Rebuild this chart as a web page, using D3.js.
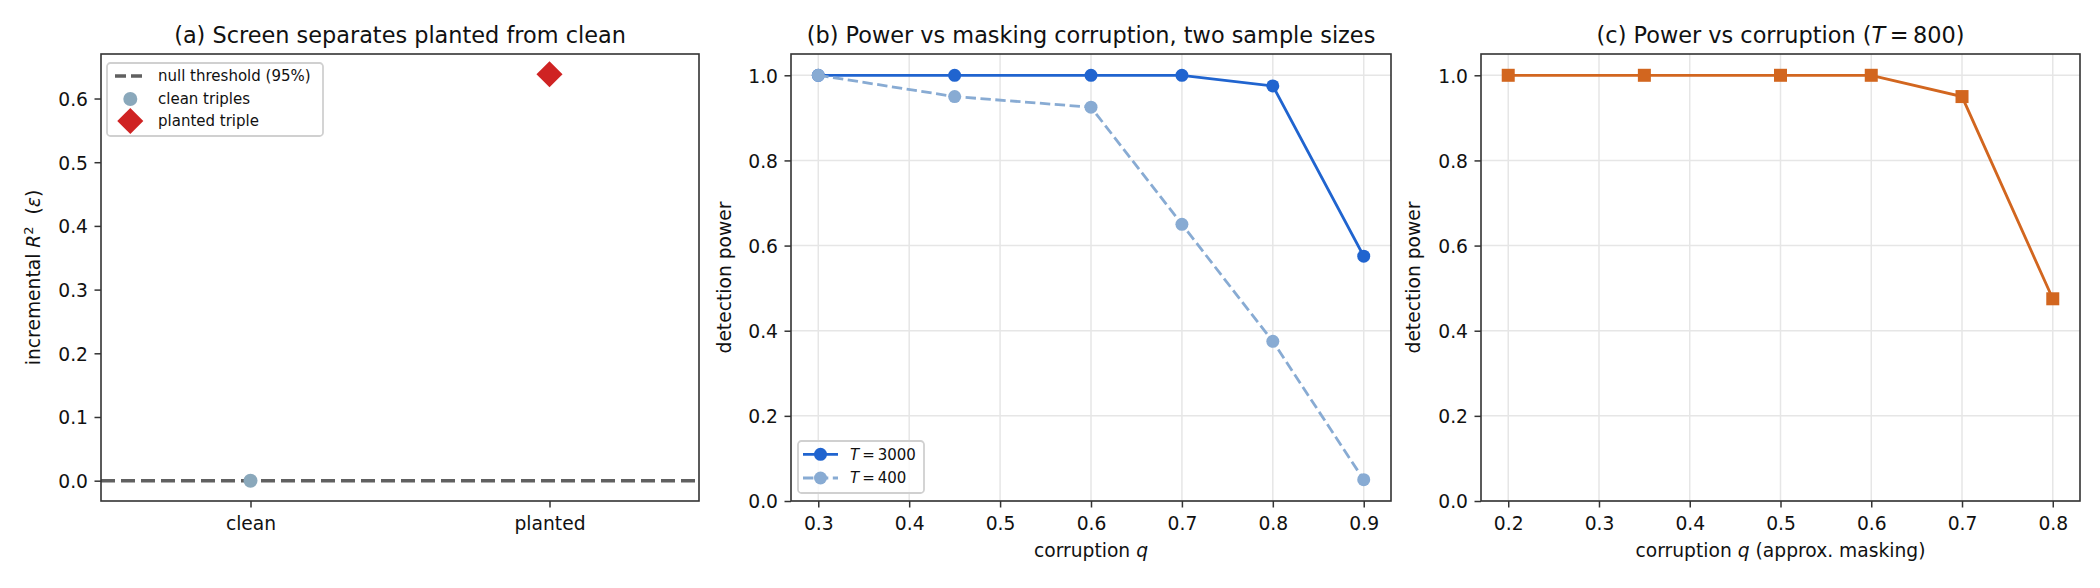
<!DOCTYPE html>
<html>
<head>
<meta charset="utf-8">
<script src="https://cdn.jsdelivr.net/npm/d3@7"></script>
<style>
  body { margin: 0; background: #fff; }
  svg { display: block; font-family: "DejaVu Sans", sans-serif; }
</style>
</head>
<body>
<svg width="2100" height="588"></svg>
<script>
// panel (a)
const catLabels = ["clean", "planted"];
const cleanVals = [0.0];
const plantedVals = [0.638];
const nullThreshold = 0.0;
const ticksA = [0.0, 0.1, 0.2, 0.3, 0.4, 0.5, 0.6];

// panel (b)
const qB = [0.3, 0.45, 0.6, 0.7, 0.8, 0.9];
const powerT3000 = [1.0, 1.0, 1.0, 1.0, 0.975, 0.575];
const powerT400 = [1.0, 0.95, 0.925, 0.65, 0.375, 0.05];
const ticksBx = [0.3, 0.4, 0.5, 0.6, 0.7, 0.8, 0.9];

// panel (c)
const qC = [0.2, 0.35, 0.5, 0.6, 0.7, 0.8];
const powerT800 = [1.0, 1.0, 1.0, 1.0, 0.95, 0.475];
const ticksCx = [0.2, 0.3, 0.4, 0.5, 0.6, 0.7, 0.8];

const ticksPower = [0.0, 0.2, 0.4, 0.6, 0.8, 1.0];

const svg = d3.select("svg");
const fTick = 18.7, fTitle = 22.4, fLeg = 15;

// рамки осей
const boxA = {x0: 101, x1: 699, y0: 54, y1: 501};
const boxB = {x0: 791, x1: 1391, y0: 54, y1: 501};
const boxC = {x0: 1481, x1: 2080, y0: 54, y1: 501};

function styleAxis(g) {
    g.select(".domain").remove();
    g.selectAll(".tick line").attr("stroke", "#333").attr("stroke-width", 1.5);
    g.selectAll(".tick text").attr("fill", "#111")
     .style("font-size", fTick + "px").style("font-family", "DejaVu Sans");
}

function drawAxes(box, scX, scY, xTicks, yTicks, fmtX, fmtY, grid) {
    if (grid) {
        let gg = svg.append("g");
        gg.selectAll(".gx").data(xTicks).enter().append("line")
          .attr("x1", d => scX(d)).attr("x2", d => scX(d))
          .attr("y1", box.y0).attr("y2", box.y1)
          .attr("stroke", "#e6e6e6").attr("stroke-width", 1.5);
        gg.selectAll(".gy").data(yTicks).enter().append("line")
          .attr("y1", d => scY(d)).attr("y2", d => scY(d))
          .attr("x1", box.x0).attr("x2", box.x1)
          .attr("stroke", "#e6e6e6").attr("stroke-width", 1.5);
    }
    let ax = svg.append("g")
       .attr("transform", `translate(0, ${box.y1})`)
       .call(d3.axisBottom(scX).tickValues(xTicks).tickFormat(fmtX).tickSize(6.5).tickPadding(6.5));
    styleAxis(ax);
    ax.selectAll(".tick text").attr("dy", null).attr("y", 28.5);

    let ay = svg.append("g")
       .attr("transform", `translate(${box.x0}, 0)`)
       .call(d3.axisLeft(scY).tickValues(yTicks).tickFormat(fmtY).tickSize(6.5).tickPadding(6.5));
    styleAxis(ay);
    ay.selectAll(".tick text").attr("dy", "0.37em");
}

function drawFrame(box) {
    svg.append("rect")
       .attr("x", box.x0).attr("y", box.y0)
       .attr("width", box.x1 - box.x0).attr("height", box.y1 - box.y0)
       .attr("fill", "none").attr("stroke", "#333").attr("stroke-width", 1.6);
}

function title(box, build) {
    let t = svg.append("text")
       .attr("x", (box.x0 + box.x1) / 2).attr("y", 43)
       .attr("text-anchor", "middle").style("font-size", fTitle + "px").attr("fill", "#111");
    build(t);
}

function ylabel(x, box, build) {
    let t = svg.append("text")
       .attr("transform", `translate(${x}, ${(box.y0 + box.y1) / 2}) rotate(-90)`)
       .attr("text-anchor", "middle").style("font-size", fTick + "px").attr("fill", "#111");
    build(t);
}

function xlabel(box, build) {
    let t = svg.append("text")
       .attr("x", (box.x0 + box.x1) / 2).attr("y", 557)
       .attr("text-anchor", "middle").style("font-size", fTick + "px").attr("fill", "#111");
    build(t);
}

function legendBox(x, y, w, h) {
    svg.append("rect")
       .attr("x", x).attr("y", y).attr("width", w).attr("height", h)
       .attr("rx", 3.5).attr("fill", "rgba(255,255,255,0.8)")
       .attr("stroke", "#d0d0d0").attr("stroke-width", 1.8);
}

const fmt1 = d3.format(".1f");

// ---------- (a) ----------
const scXA = d3.scalePoint().domain(catLabels).range([boxA.x0 + (boxA.x1 - boxA.x0) / 4, boxA.x1 - (boxA.x1 - boxA.x0) / 4]);
const scYA = d3.scaleLinear().domain([-0.0319, 0.6699]).range([boxA.y1, boxA.y0]);
drawAxes(boxA, scXA, scYA, catLabels, ticksA, d => d, fmt1, false);

svg.append("line")
   .attr("x1", boxA.x0).attr("x2", boxA.x1)
   .attr("y1", scYA(nullThreshold)).attr("y2", scYA(nullThreshold))
   .attr("stroke", "#606060").attr("stroke-width", 3.6).attr("stroke-dasharray", "14,6");

svg.selectAll(".clean").data(cleanVals).enter().append("circle")
   .attr("cx", scXA("clean")).attr("cy", d => scYA(d)).attr("r", 7)
   .attr("fill", "#8aa8bb");

const diamond = d3.symbol().type(d3.symbolSquare).size(340);
svg.selectAll(".planted").data(plantedVals).enter().append("path")
   .attr("d", diamond)
   .attr("transform", d => `translate(${scXA("planted")}, ${scYA(d)}) rotate(45)`)
   .attr("fill", "#cf2323");

drawFrame(boxA);
title(boxA, t => t.text("(a) Screen separates planted from clean"));
ylabel(39.5, boxA, t => {
    t.append("tspan").text("incremental ");
    t.append("tspan").attr("font-style", "italic").text("R");
    t.append("tspan").attr("dy", -7).style("font-size", "13px").text("2");
    t.append("tspan").attr("dy", 7).text("\u00a0\u00a0(");
    t.append("tspan").attr("font-style", "italic").text("\u03b5");
    t.append("tspan").text(")");
});

// legend (a)
legendBox(107, 63, 216, 73);
svg.append("line").attr("x1", 115).attr("x2", 143).attr("y1", 76).attr("y2", 76)
   .attr("stroke", "#606060").attr("stroke-width", 3.6).attr("stroke-dasharray", "11,5");
svg.append("circle").attr("cx", 130.3).attr("cy", 99).attr("r", 7).attr("fill", "#8aa8bb");
svg.append("path").attr("d", diamond).attr("transform", "translate(130.3, 121) rotate(45)").attr("fill", "#cf2323");
[["null threshold (95%)", 76], ["clean triples", 99], ["planted triple", 121]].forEach(e => {
    svg.append("text").attr("x", 158).attr("y", e[1] + 5.3)
       .style("font-size", fLeg + "px").attr("fill", "#111").text(e[0]);
});

// ---------- (b) ----------
const scXB = d3.scaleLinear().domain([0.27, 0.93]).range([boxB.x0, boxB.x1]);
const scYB = d3.scaleLinear().domain([0, 1.05]).range([boxB.y1, boxB.y0]);
drawAxes(boxB, scXB, scYB, ticksBx, ticksPower, fmt1, fmt1, true);

const colT3000 = "#2064cf", colT400 = "#88abd3";
function series(xs, ys, scX, scY, color, dash, shape) {
    let pts = xs.map((x, i) => [x, ys[i]]);
    let line = d3.line().x(d => scX(d[0])).y(d => scY(d[1]));
    svg.append("path").datum(pts).attr("d", line)
       .attr("fill", "none").attr("stroke", color).attr("stroke-width", 2.8)
       .attr("stroke-dasharray", dash);
    if (shape === "square") {
        svg.selectAll(null).data(pts).enter().append("rect")
           .attr("x", d => scX(d[0]) - 6.5).attr("y", d => scY(d[1]) - 6.5)
           .attr("width", 13).attr("height", 13).attr("fill", color);
    } else {
        svg.selectAll(null).data(pts).enter().append("circle")
           .attr("cx", d => scX(d[0])).attr("cy", d => scY(d[1])).attr("r", 6.5)
           .attr("fill", color);
    }
}
series(qB, powerT3000, scXB, scYB, colT3000, null, "circle");
series(qB, powerT400, scXB, scYB, colT400, "10.4,4.5", "circle");

drawFrame(boxB);
title(boxB, t => t.text("(b) Power vs masking corruption, two sample sizes"));
ylabel(730.5, boxB, t => t.text("detection power"));
xlabel(boxB, t => {
    t.append("tspan").text("corruption ");
    t.append("tspan").attr("font-style", "italic").text("q");
});

// legend (b)
legendBox(798, 441, 126, 52);
[[colT3000, null, "3000", 454.3], [colT400, "10.4,4.5", "400", 478]].forEach(e => {
    svg.append("line").attr("x1", 803).attr("x2", 838).attr("y1", e[3]).attr("y2", e[3])
       .attr("stroke", e[0]).attr("stroke-width", 2.8).attr("stroke-dasharray", e[1]);
    svg.append("circle").attr("cx", 820.5).attr("cy", e[3]).attr("r", 6.5).attr("fill", e[0]);
    let t = svg.append("text").attr("x", 850).attr("y", e[3] + 5.3)
       .style("font-size", fLeg + "px").attr("fill", "#111");
    t.append("tspan").attr("font-style", "italic").text("T");
    t.append("tspan").text("\u2009=\u2009" + e[2]);
});

// ---------- (c) ----------
const scXC = d3.scaleLinear().domain([0.17, 0.83]).range([boxC.x0, boxC.x1]);
const scYC = d3.scaleLinear().domain([0, 1.05]).range([boxC.y1, boxC.y0]);
drawAxes(boxC, scXC, scYC, ticksCx, ticksPower, fmt1, fmt1, true);
series(qC, powerT800, scXC, scYC, "#d2661f", null, "square");

drawFrame(boxC);
title(boxC, t => {
    t.append("tspan").text("(c) Power vs corruption (");
    t.append("tspan").attr("font-style", "italic").text("T");
    t.append("tspan").text("\u2009=\u2009800)");
});
ylabel(1420, boxC, t => t.text("detection power"));
xlabel(boxC, t => {
    t.append("tspan").text("corruption ");
    t.append("tspan").attr("font-style", "italic").text("q");
    t.append("tspan").text(" (approx. masking)");
});
</script>
</body>
</html>
